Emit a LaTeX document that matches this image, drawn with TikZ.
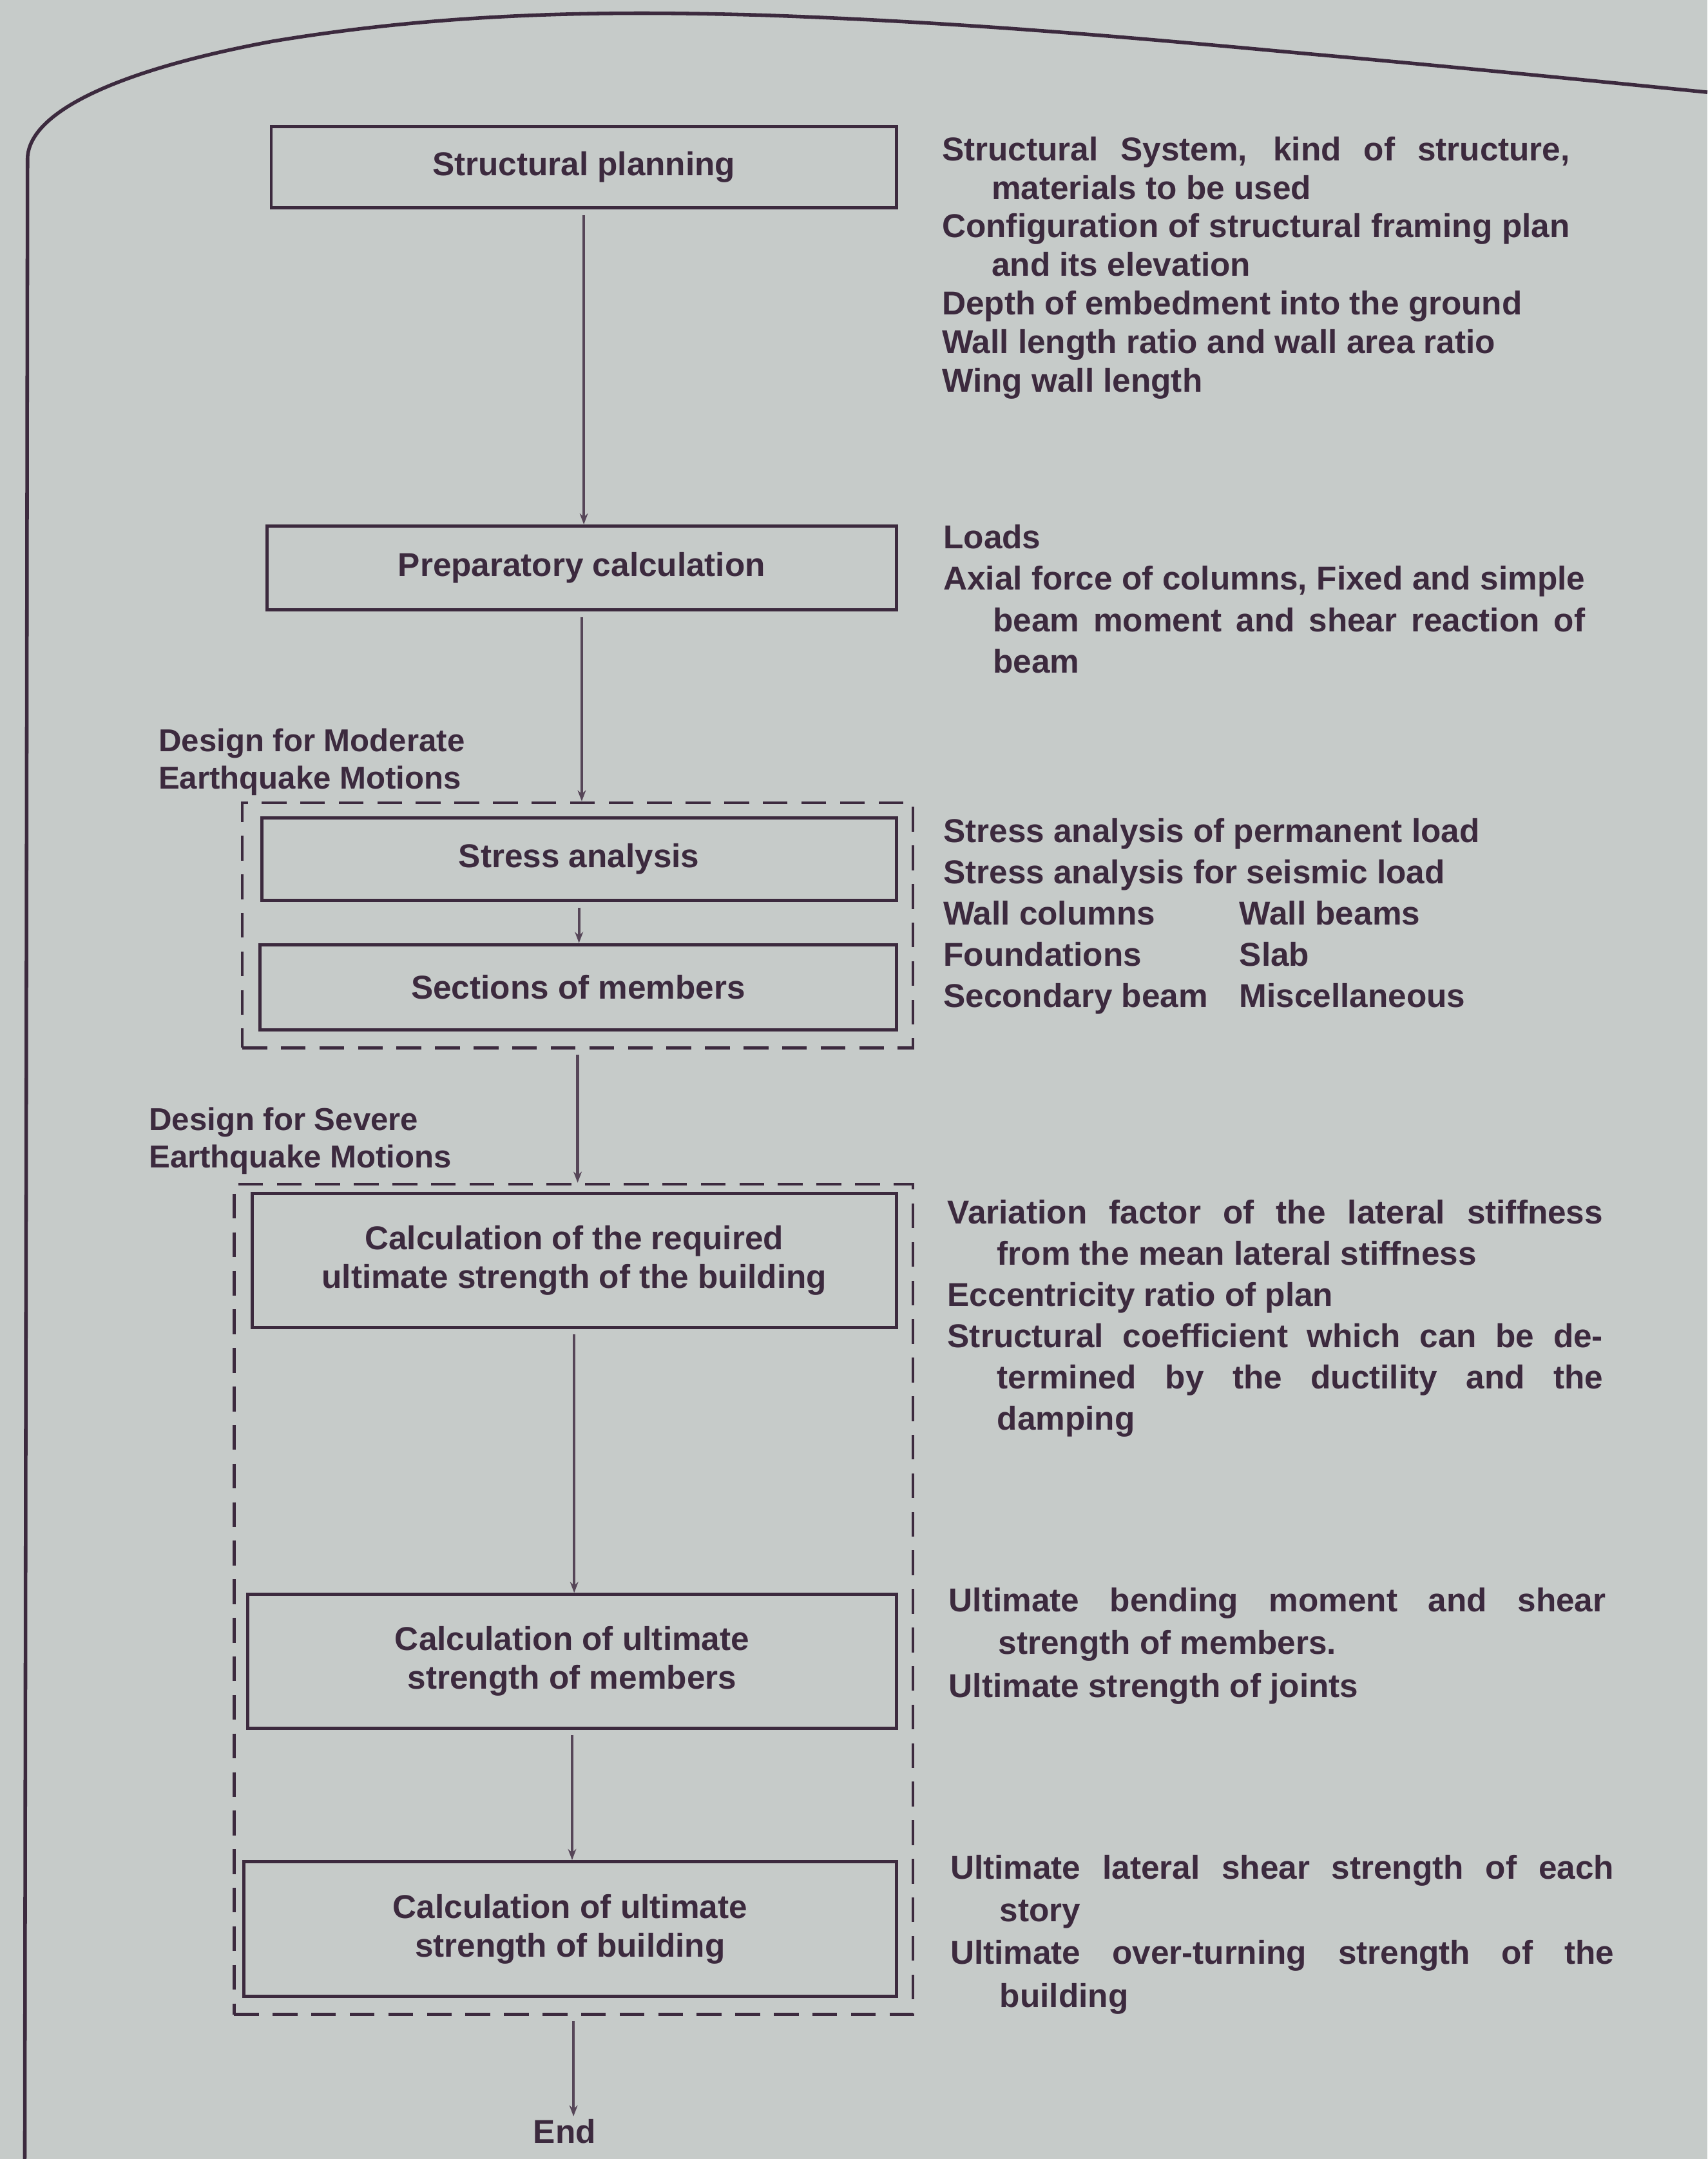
\documentclass[tikz,border=0pt]{standalone}
\usepackage{fontspec}
\setmainfont{Liberation Sans}
\usetikzlibrary{arrows.meta}
\definecolor{paper}{RGB}{198,203,201}
\definecolor{ink}{RGB}{60,42,62}
\definecolor{arrowink}{RGB}{86,70,88}
\newcommand\mynote[3]{\parbox[t]{#1}{\fontsize{24}{#2}\selectfont\bfseries\tolerance=10000\hbadness=10000\hyphenpenalty=10000\parindent=0pt\everypar{\hangindent=36pt\hangafter=1}#3}}
\begin{document}
\begin{tikzpicture}[x=1pt,y=-1pt,
  fbox/.style={draw=ink, line width=2.3pt, inner sep=0pt, align=center, text=ink,
    font=\fontsize{24}{28}\selectfont\bfseries},
  dbox/.style={draw=ink, line width=2.1pt, dash pattern=on 18pt off 10pt, inner sep=0pt},
  arr/.style={draw=arrowink, line width=2pt, -{Stealth[length=8pt,width=6pt]}, shorten <=4pt},
  note/.style={anchor=base west, inner sep=0pt, text=ink},
  frame/.style={draw=ink, line width=2.6pt, line join=round}
]
\fill[paper] (0,0) rectangle (1240,1568);
\useasboundingbox (0,0) rectangle (1240,1568);

% page frame
\draw[frame] (18,1568) -- (20,115) .. controls (21,80) and (90,50) .. (198,30)
  .. controls (330,8) and (450,8) .. (553,11)
  .. controls (700,16) and (830,28) .. (949,39)
  .. controls (1050,48) and (1150,58) .. (1240,67);

% dashed groups
\node[dbox, minimum width=487pt, minimum height=178pt] (d1) at (419.5,672) {};
\node[dbox, minimum width=493pt, minimum height=603pt] (d2) at (416.5,1161.5) {};

% boxes
\node[fbox, minimum width=454pt, minimum height=59pt] (b1) at (424,121.5) {Structural planning};
\node[fbox, minimum width=457pt, minimum height=61pt] (b2) at (422.5,412.5) {Preparatory calculation};
\node[fbox, minimum width=461pt, minimum height=60pt] (b3) at (420.5,624) {Stress analysis};
\node[fbox, minimum width=462pt, minimum height=62pt] (b4) at (420,717) {Sections of members};
\node[fbox, minimum width=468pt, minimum height=97pt] (b5) at (417,915.5) {Calculation of the required\\ultimate strength of the building};
\node[fbox, minimum width=471pt, minimum height=97pt] (b6) at (415.5,1206.5) {Calculation of ultimate\\strength of members};
\node[fbox, minimum width=474pt, minimum height=98pt] (b7) at (414,1401) {Calculation of ultimate\\strength of building};
\node[anchor=base, inner sep=2pt, text=ink, font=\fontsize{24}{28}\selectfont\bfseries] (end) at (410,1556.6) {End};

% group labels
\node[note, font=\fontsize{23}{27}\selectfont\bfseries] (lm) at (115,546) {\parbox[t]{260pt}{\raggedright Design for Moderate\\Earthquake Motions}};
\node[note, font=\fontsize{23}{27}\selectfont\bfseries] (ls) at (108,821) {\parbox[t]{260pt}{\raggedright Design for Severe\\Earthquake Motions}};

% connectors
\draw[arr] (b1.south) -- (b1.south |- b2.north);
\draw[arr] (b2.south) -- (b2.south |- d1.north);
\draw[arr] (b3.south) -- (b3.south |- b4.north);
\draw[arr] (d1.south) -- (d1.south |- d2.north);
\draw[arr] (b5.south) -- (b5.south |- b6.north);
\draw[arr] (b6.south) -- (b6.south |- b7.north);
\draw[arr] (d2.south) -- (d2.south |- end.north);

% side notes
\node[note] (n1) at (684,116.6) {\mynote{456pt}{28}{Structural System, kind of structure,\linebreak materials to be used\par
Configuration of structural framing plan\linebreak and its elevation\par
Depth of embedment into the ground\par
Wall length ratio and wall area ratio\par
Wing wall length}};

\node[note] (n2) at (685,398.6) {\mynote{466pt}{30}{Loads\par
Axial force of columns, Fixed and simple\linebreak beam moment and shear reaction of\linebreak beam}};

\node[note] (n3) at (685,611.6) {\mynote{500pt}{30}{Stress analysis of permanent load\par
Stress analysis for seismic load\par
\makebox[215pt][l]{Wall columns}Wall beams\par
\makebox[215pt][l]{Foundations}Slab\par
\makebox[215pt][l]{Secondary beam}Miscellaneous}};

\node[note] (n4) at (688,888.6) {\mynote{476pt}{30}{Variation factor of the lateral stiffness\linebreak from the mean lateral stiffness\par
Eccentricity ratio of plan\par
Structural coefficient which can be de-\linebreak termined by the ductility and the\linebreak damping}};

\node[note] (n5) at (689,1170.6) {\mynote{477pt}{31}{Ultimate bending moment and shear\linebreak strength of members.\par
Ultimate strength of joints}};

\node[note] (n6) at (690,1364.6) {\mynote{482pt}{31}{Ultimate lateral shear strength of each\linebreak story\par
Ultimate over-turning strength of the\linebreak building}};
\end{tikzpicture}
\end{document}
